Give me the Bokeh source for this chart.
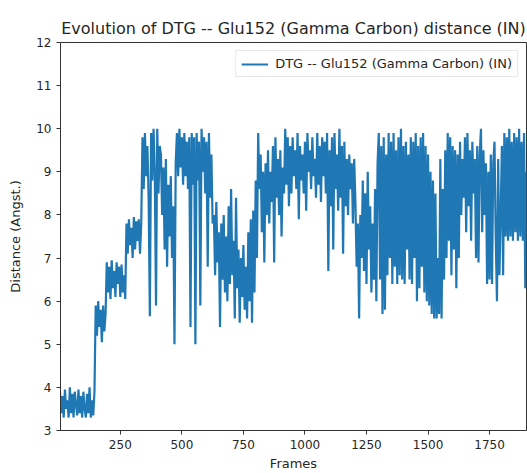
from bokeh.plotting import figure
from bokeh.models import Range1d, FixedTicker
from bokeh.embed import file_html
from bokeh.resources import INLINE

# ---- data (frame index starts at 5, one value every 5 frames) ----
seg_a = [3.9, 3.4, 3.8, 3.3, 3.95, 3.5, 3.7, 3.3, 4.0, 3.4, 3.85, 3.3, 3.9, 3.6, 3.35,
         3.95, 3.4, 3.8, 3.3, 3.9, 3.5, 3.3, 3.85, 3.4, 4.0, 3.3, 3.7, 3.35, 3.9]
seg_b = [5.9, 5.2, 6.0, 5.4, 5.8, 5.05, 5.9, 5.3, 5.7]
seg_c = [6.9, 6.2, 6.8, 6.05, 6.95, 6.3, 6.7, 6.1, 6.9, 6.4, 6.8, 6.1, 6.85, 6.2, 6.6, 6.05]
seg_d = [7.8, 7.1, 7.9, 7.3, 7.7, 7.0, 7.95, 7.2, 7.85, 7.4, 7.9, 7.1, 7.8]
seg_e = [9.8, 8.6, 9.9, 8.9, 9.6, 8.4, 5.65, 9.9, 8.8, 10.0, 9.0, 5.9, 10.0, 8.5, 9.6]
seg_f = [9.4, 8.0, 9.1, 7.2, 9.3, 6.8, 8.7, 7.5, 8.9, 7.0, 8.2, 5.0]
seg_g = [9.2, 9.9, 8.9, 10.0, 9.1, 9.8, 8.7, 9.9, 8.9, 9.7, 8.6, 9.8, 5.4, 9.9, 8.7]
seg_h = [9.8, 5.0, 9.9, 8.8, 9.7, 5.9, 10.0, 9.0, 9.8, 8.5, 9.7, 6.8, 9.9, 8.4, 9.4, 7.8]
seg_i = [8.0, 6.6, 8.3, 6.9, 7.6, 5.4, 7.8, 6.5, 8.0, 6.2, 7.5, 6.0, 8.2, 6.4, 8.6, 6.6,
         7.4, 5.6, 8.4, 6.3, 7.2, 5.5, 7.0, 6.1, 7.3, 5.8, 6.8, 5.6, 7.6, 6.0, 7.9, 5.5,
         8.1, 6.2]
seg_j = [8.8, 7.0, 9.9, 8.6, 9.4, 7.6, 9.0, 6.9, 9.2, 8.0, 9.5, 7.8, 9.0, 8.3, 9.6, 6.9,
         9.8, 8.4, 9.3, 8.0, 9.5, 7.5, 9.1, 8.5, 10.0, 8.7, 9.8, 8.2, 9.6, 8.5]
seg_k = [9.8, 8.9, 9.5, 8.6, 9.9, 7.9, 9.6, 8.8, 9.4, 8.5, 9.7, 8.1, 9.9, 9.0, 9.5, 8.6,
         9.8, 8.9, 9.3, 8.4, 9.9, 8.7, 9.6, 8.3, 9.8, 8.9, 9.7, 8.5, 9.9, 6.7, 9.5, 8.2,
         9.8, 7.2, 9.9, 8.6, 9.4, 8.1, 10.0, 8.4, 9.6, 7.1, 9.7, 8.2, 9.3, 8.0, 9.4, 8.6,
         9.2, 7.8, 9.3]
seg_l = [8.3, 6.8, 7.8, 5.6, 8.0, 7.0, 8.8, 6.7, 8.5, 6.4, 9.0, 7.2, 8.2, 6.2, 7.8, 6.5,
         8.6, 6.0, 9.2]
seg_m = [9.9, 6.5, 9.6, 5.7, 9.8, 5.8, 9.4, 6.6, 9.9, 7.0, 9.7, 6.4, 9.9, 6.8, 9.5, 6.4,
         9.8, 6.6, 10.0, 6.5, 9.6, 6.4, 9.7, 7.2, 9.4]
seg_n = [6.5, 9.8, 6.4, 9.7, 7.0, 9.9, 6.0, 9.6, 6.3, 9.8, 6.8, 9.9, 6.2, 9.6, 6.0, 9.4,
         5.9, 9.0, 5.7, 8.8, 5.6, 8.5, 5.6, 7.0, 5.7]
seg_o = [9.3, 5.6, 8.6, 6.5, 9.5, 7.0, 9.9, 7.4, 9.8, 6.6, 9.6, 7.2, 9.5, 6.3, 9.4, 7.0,
         9.7, 8.0, 9.3]
seg_p = [8.4, 9.8, 7.6, 9.9, 8.2, 9.5, 7.4, 9.7, 8.5, 9.3, 7.0, 9.6, 6.9, 9.4, 10.0, 7.6,
         9.5, 8.0, 9.2, 6.4, 9.0, 6.5, 9.4, 6.4, 9.2, 9.7, 7.5, 6.0, 9.3, 6.6, 8.0]
seg_q = [9.6, 6.6, 9.9, 7.5, 9.8, 7.4, 10.0, 7.5, 9.7, 7.4, 9.9, 7.6, 9.8, 7.4, 10.0, 7.5,
         9.7, 7.4, 9.9, 6.3, 9.0]

distance = (seg_a + seg_b + seg_c + seg_d + seg_e + seg_f + seg_g + seg_h + seg_i +
            seg_j + seg_k + seg_l + seg_m + seg_n + seg_o + seg_p + seg_q)
frame_start = 5
frame_step = 5
frames = [frame_start + frame_step * i for i in range(len(distance))]

x_ticks = [250, 500, 750, 1000, 1250, 1500, 1750]
y_ticks = [3, 4, 5, 6, 7, 8, 9, 10, 11, 12]

title_text = "Evolution of DTG -- Glu152 (Gamma Carbon) distance (IN)"
series_label = "DTG -- Glu152 (Gamma Carbon) (IN)"

FONT = "DejaVu Sans"
TXT = "#262626"

p = figure(width=527, height=473, output_backend="svg", toolbar_location=None,
           x_range=Range1d(7, 1900), y_range=Range1d(3, 12),
           min_border_left=60, min_border_right=1, min_border_top=42, min_border_bottom=41,
           title=title_text)

p.line(frames, distance, line_color="#1f77b4", line_width=2.2, legend_label=series_label)

p.title.align = "center"
p.title.text_font = FONT
p.title.text_font_size = "16px"
p.title.text_font_style = "normal"
p.title.text_color = TXT
p.title.standoff = 10

p.xgrid.visible = False
p.ygrid.visible = False
p.outline_line_color = "#333333"
p.outline_line_width = 1
p.background_fill_color = "white"
p.border_fill_color = "white"

for ax in (p.xaxis[0], p.yaxis[0]):
    ax.axis_line_color = "#333333"
    ax.major_tick_line_color = "#333333"
    ax.major_tick_out = 4
    ax.major_tick_in = 0
    ax.minor_tick_line_color = None
    ax.major_label_text_font = FONT
    ax.major_label_text_font_size = "12px"
    ax.major_label_text_color = TXT
    ax.axis_label_text_font = FONT
    ax.axis_label_text_font_size = "13px"
    ax.axis_label_text_font_style = "normal"
    ax.axis_label_text_color = TXT

p.xaxis.ticker = FixedTicker(ticks=x_ticks)
p.yaxis.ticker = FixedTicker(ticks=y_ticks)
p.xaxis.axis_label = "Frames"
p.yaxis.axis_label = "Distance (Angst.)"
p.xaxis.axis_label_standoff = 4
p.yaxis.axis_label_standoff = 10

lg = p.legend[0]
lg.location = "top_right"
lg.margin = 8
lg.padding = 5
lg.spacing = 0
lg.label_text_font = FONT
lg.label_text_font_size = "13px"
lg.label_text_color = TXT
lg.glyph_width = 27
lg.glyph_height = 14
lg.label_height = 14
lg.label_standoff = 7
lg.border_line_color = "#d0d0d0"
lg.border_line_width = 1
lg.background_fill_alpha = 0.85

open("out.html", "w").write(file_html(p, INLINE))
